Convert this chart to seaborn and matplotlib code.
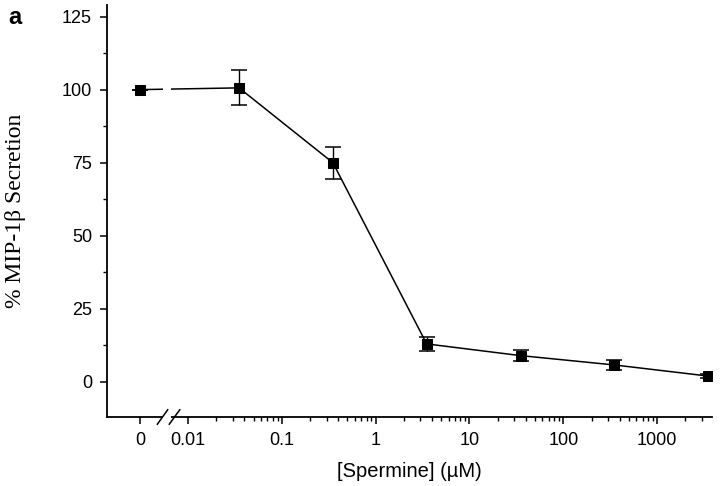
import numpy as np
import pandas as pd
import matplotlib
matplotlib.use("Agg")
import matplotlib.pyplot as plt
from matplotlib.ticker import FixedLocator, NullFormatter
import matplotlib.transforms as mtransforms
import seaborn as sns

# data
spermine_um = [0, 0.035, 0.35, 3.5, 35, 350, 3500]
secretion = [100, 100.6, 75, 13, 9, 5.8, 2.0]
sem = [0, 6, 5.5, 2.5, 1.8, 1.8, 0.7]

x_ticks = [0, 0.01, 0.1, 1, 10, 100, 1000]
x_tick_labels = ["0", "0.01", "0.1", "1", "10", "100", "1000"]
y_ticks = [0, 25, 50, 75, 100, 125]

# where "0" sits on the broken log axis
ZERO_POS = 0.0031

def to_axis(x):
    return [ZERO_POS if v == 0 else v for v in x]

df = pd.DataFrame({"conc": to_axis(spermine_um), "secretion": secretion, "sem": sem})

sns.set_style("ticks", {"text.color": "black", "axes.labelcolor": "black",
                        "xtick.color": "black", "ytick.color": "black",
                        "axes.edgecolor": "black"})
fig = plt.figure(figsize=(7.2, 4.86), dpi=100)
ax = fig.add_axes([0.149, 0.142, 0.840, 0.848])

ax.errorbar(df["conc"], df["secretion"], yerr=df["sem"], fmt="none",
            ecolor="black", elinewidth=1.0, capsize=6, capthick=1.1, zorder=2)
sns.lineplot(data=df, x="conc", y="secretion", ax=ax, color="black",
             linewidth=1.1, marker="s", markersize=6.5, markeredgecolor="black",
             markerfacecolor="black", zorder=2.2)

ax.set_xscale("log")
ax.set_xlim(0.00138, 3850)
ax.set_ylim(-12, 129)

ax.xaxis.set_major_locator(FixedLocator(to_axis(x_ticks)))
ax.set_xticklabels(x_tick_labels)
minor = [m * 10.0 ** e for e in range(-2, 4) for m in range(2, 10)]
minor = [v for v in minor if v < 3850]
ax.xaxis.set_minor_locator(FixedLocator(minor))
ax.xaxis.set_minor_formatter(NullFormatter())

ax.set_yticks(y_ticks)
ax.yaxis.set_minor_locator(FixedLocator([12.5, 37.5, 62.5, 87.5, 112.5]))

sns.despine(ax=ax)
for side in ["left", "bottom"]:
    ax.spines[side].set_linewidth(1.3)
    ax.spines[side].set_color("black")

ax.tick_params(which="major", direction="out", length=5, width=1.1,
               labelsize=13, colors="black", pad=6)
ax.tick_params(which="minor", direction="out", length=3, width=1.0, colors="black")
for lab in ax.get_xticklabels() + ax.get_yticklabels():
    lab.set_family(["Liberation Sans", "DejaVu Sans"])

# axis break
ax.axvspan(0.0054, 0.0066, ymin=-0.02, ymax=1, color="white", zorder=3,
           clip_on=False, linewidth=0)
trans = mtransforms.blended_transform_factory(ax.transData, ax.transAxes)
for x0, x1 in [(0.0047, 0.0061), (0.0063, 0.0082)]:
    ax.plot([x0, x1], [-0.018, 0.018], color="black", linewidth=1.1,
            transform=trans, clip_on=False, zorder=4)

ax.set_xlabel("[Spermine] (\u00b5M)", fontsize=14.5, color="black",
              family=["Liberation Sans", "DejaVu Sans"], labelpad=9)
ax.set_ylabel("% MIP-1\u03b2 Secretion", fontsize=17, color="black",
              family=["Liberation Serif", "DejaVu Serif"])
ax.yaxis.set_label_coords(-0.134, 0.5)

fig.text(0.012, 0.965, "a", fontsize=17, fontweight="bold", color="black",
         family=["Liberation Sans", "DejaVu Sans"], va="center")

fig.savefig("out.png", dpi=100)
